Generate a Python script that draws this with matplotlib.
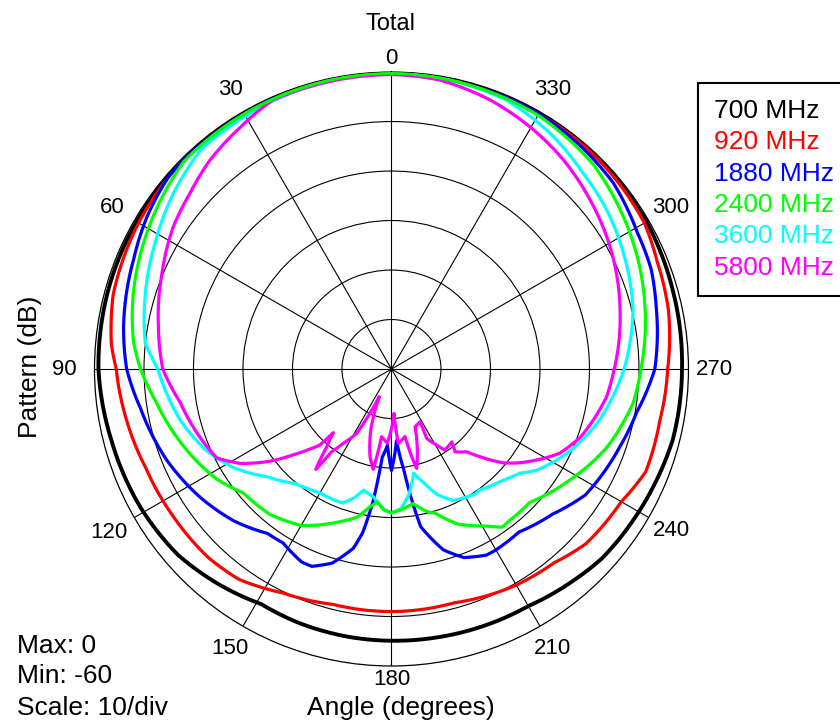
import numpy as np
import matplotlib.pyplot as plt

plt.rcParams['font.family'] = ['Liberation Sans', 'DejaVu Sans']

# pattern readings, angle in degrees, level in dB
ang_700 = [0, 30, 60, 75, 90, 104, 119, 131, 141, 151, 160, 171, 180, 190, 197, 210, 220, 228, 238, 246, 256, 270, 285, 300, 330, 360]
db_700 = [-0.2, -0.3, -0.5, -0.6, -0.8, -1.6, -2.1, -2.8, -4.2, -5.7, -5.4, -5.2, -5.1, -5.0, -4.9, -4.7, -3.7, -2.8, -2.4, -2.0, -1.4, -1.3, -1.0, -0.5, -0.3, -0.2]

ang_920 = [0, 30, 45, 60, 75, 85, 90, 101, 112, 124, 136, 144, 154, 166, 180, 195, 210, 220, 228, 240, 248, 259, 270, 282, 292, 300, 315, 330, 360]
db_920 = [-0.2, -0.3, -0.4, -1.0, -1.8, -3.2, -4.4, -5.5, -6.5, -6.8, -6.9, -7.5, -9.7, -11.0, -11.0, -11.1, -9.6, -8.9, -7.2, -6.4, -4.6, -4.8, -4.2, -2.8, -2.1, -1.0, -0.5, -0.3, -0.2]

ang_1880 = [0, 30, 49, 58, 67, 81, 90, 99, 112, 124, 134, 143, 148, 155, 158, 163, 168, 170, 172, 174, 177, 180, 184, 187, 189, 190.5, 196, 201, 207, 210, 218, 228, 237, 251, 260, 270, 283, 291, 299, 310, 330, 360]
db_1880 = [-0.2, -0.4, -0.5, -1.8, -3.4, -5.2, -6.5, -8.7, -11.0, -13.5, -15.8, -18.4, -18.6, -17.0, -17.0, -19.0, -23.0, -26.4, -32.7, -42.1, -44.6, -39.5, -45.5, -39.4, -32.6, -27.6, -22.0, -19.2, -17.8, -17.8, -18.2, -16.2, -13.3, -11.3, -9.7, -6.8, -5.1, -3.8, -3.2, -1.5, -0.4, -0.2]

ang_2400 = [0, 30, 45, 52, 63, 74, 84, 90, 98, 110, 122, 130, 140, 150, 160, 167, 171, 174, 177, 180, 184, 189, 194, 197, 203, 211, 215, 218, 226, 238, 250, 262, 270, 283, 294, 300, 315, 330, 360]
db_2400 = [-0.2, -0.5, -0.7, -1.9, -3.8, -5.7, -7.6, -9.3, -12.0, -15.1, -18.2, -21.0, -21.7, -23.5, -27.0, -29.3, -31.8, -33.0, -31.5, -31.0, -31.5, -32.5, -30.3, -29.5, -26.0, -23.0, -21.0, -21.2, -21.2, -17.6, -13.7, -10.7, -9.6, -7.4, -5.5, -4.5, -2.0, -0.8, -0.2]

ang_3600 = [0, 15, 30, 41, 51, 62, 73, 84, 90, 104, 114, 122, 131, 140, 145, 150, 156, 160, 164, 167, 172, 177, 180, 184, 188, 192, 196, 200, 205, 214, 216, 225, 231, 235, 245, 256, 270, 284, 296, 306, 316, 326, 337, 350, 360]
db_3600 = [-0.3, -0.5, -1.0, -1.3, -3.4, -5.9, -8.0, -10.0, -12.8, -16.2, -19.2, -22.4, -26.8, -29.8, -30.5, -31.1, -31.1, -31.2, -33.0, -34.9, -33.9, -31.5, -30.9, -31.8, -34.5, -38.5, -36.0, -33.0, -30.7, -29.6, -29.8, -28.2, -26.6, -24.3, -20.4, -16.8, -13.0, -9.7, -7.7, -6.0, -4.6, -2.6, -0.9, -0.4, -0.3]

ang_5800 = [0, 13, 24, 32, 41, 49, 57, 68, 80, 90, 99, 110, 117, 122, 127, 131, 134, 136.7, 137.6, 140.2, 143, 144.1, 147, 151.6, 153.3, 156.2, 161.2, 166.2, 169.7, 171.7, 176.8, 183.2, 185.2, 191.3, 193, 194.2, 202.2, 208.4, 206.9, 210.7, 213.4, 219.6, 217.5, 222.3, 225.3, 230, 233.7, 243.4, 250.2, 262.6, 270, 284.5, 299.2, 310.4, 320.6, 329.3, 339.9, 350.5, 360]
db_5800 = [-0.5, -0.6, -0.6, -2.4, -4.1, -6.0, -7.4, -9.9, -12.2, -13.8, -16.8, -19.0, -20.4, -24.0, -29.0, -33.5, -36.5, -38.9, -42.6, -39.6, -34.6, -39.4, -42.1, -45.2, -48.8, -53.9, -47.0, -41.8, -39.4, -46.2, -45.0, -51.0, -44.9, -46.1, -41.8, -39.3, -47.4, -47.9, -44.3, -42.1, -40.4, -40.9, -38.9, -37.4, -34.8, -30.5, -28.0, -22.0, -19.4, -16.2, -15.0, -12.3, -9.4, -7.3, -5.3, -3.8, -2.1, -0.8, -0.5]

labels = ['700 MHz', '920 MHz', '1880 MHz', '2400 MHz', '3600 MHz', '5800 MHz']
colors = ['#000000', '#ff0000', '#0000ff', '#00ff00', '#00ffff', '#ff00ff']
angles = [ang_700, ang_920, ang_1880, ang_2400, ang_3600, ang_5800]
levels = [db_700, db_920, db_1880, db_2400, db_3600, db_5800]

fig = plt.figure(figsize=(8.4, 7.26), dpi=100)
ax = fig.add_axes([0.1125, 0.0826, 0.7071, 0.8182], projection='polar')
ax.set_theta_zero_location('N')
ax.set_theta_direction(1)
ax.set_ylim(-60, 0)
ax.set_yticks([-50, -40, -30, -20, -10])
ax.set_yticklabels([])
ax.set_xticks(np.deg2rad(np.arange(0, 360, 30)))
ax.set_xticklabels([])
ax.grid(True, color='black', linewidth=0.8, linestyle='-')
ax.spines['polar'].set_linewidth(0.9)

for lab, col, a, d in zip(labels, colors, angles, levels):
    lw = 2.8 if col == '#000000' else 2.3
    z = 3 if col == '#00ff00' else 2
    line, = ax.plot(np.deg2rad(a), d, color=col, linewidth=lw, label=lab, zorder=z)
    # let the polar transform draw curved segments between readings
    line.get_path()._interpolation_steps = 40
    line.recache(always=True)

# angle labels round the rim
for a in range(0, 360, 30):
    pad = 5.2
    if a in (0, 180):
        pad = 2.8
    elif a in (90, 120):
        pad = 6.0
    ax.text(np.deg2rad(a), pad, str(a), ha='center', va='center', fontsize=16, clip_on=False)

leg = fig.legend(loc='upper left', bbox_to_anchor=(698 / 840, 1 - 83 / 726), bbox_transform=fig.transFigure,
                 borderaxespad=0, handlelength=0, handletextpad=0, labelcolor='linecolor',
                 fontsize=19, fancybox=False, framealpha=1, edgecolor='black', labelspacing=0.28, borderpad=0.6)
leg.get_frame().set_linewidth(1.5)
for h in leg.legend_handles:
    h.set_visible(False)

fig.text(391 / 840, 1 - 30 / 726, 'Total', ha='center', va='baseline', fontsize=17)
fig.text(30 / 840, 1 - 367 / 726, 'Pattern (dB)', ha='center', va='center', rotation=90, fontsize=19)
fig.text(401 / 840, 1 - 715 / 726, 'Angle (degrees)', ha='center', va='baseline', fontsize=19)
fig.text(17 / 840, 1 - 653 / 726, 'Max: 0', ha='left', va='baseline', fontsize=19)
fig.text(17 / 840, 1 - 683 / 726, 'Min: -60', ha='left', va='baseline', fontsize=19)
fig.text(17 / 840, 1 - 715 / 726, 'Scale: 10/div', ha='left', va='baseline', fontsize=19)

plt.savefig('out.png', dpi=100)
